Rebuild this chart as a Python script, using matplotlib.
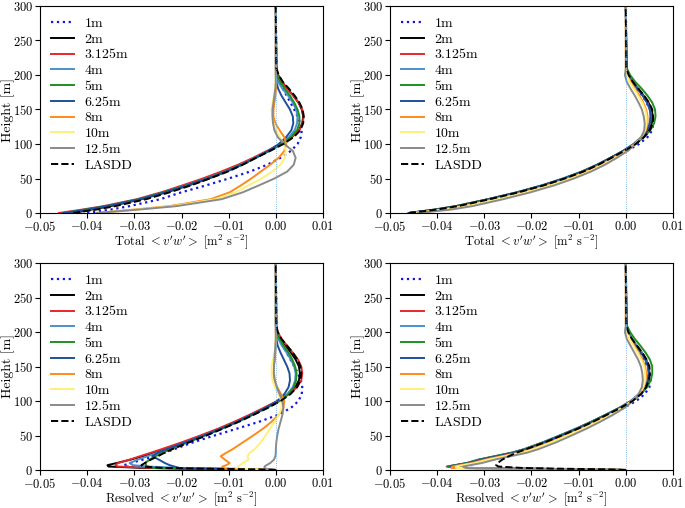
import matplotlib
matplotlib.use('Agg')
from matplotlib import pyplot as plt

plt.rcParams['font.family'] = 'serif'
plt.rcParams['font.serif'] = ['cmr10']
plt.rcParams['mathtext.fontset'] = 'cm'
plt.rcParams['axes.formatter.use_mathtext'] = True
plt.rcParams['font.size'] = 10

labels = ['1m', '2m', '3.125m', '4m', '5m', '6.25m', '8m', '10m', '12.5m', 'LASDD']
colors = ['#1515e0', 'black', '#e8262b', '#4a8fcf', '#1f8f1f', '#1f4f9c',
          '#ff8a1c', '#fff07a', '#8a8a8a', 'black']
styles = [':', '-', '-', '-', '-', '-', '-', '-', '-', '--']

# heights [m]
h_tot = [0, 5, 10, 20, 30, 40, 50, 60, 70, 80, 90, 100, 110, 120, 130, 140,
         150, 160, 170, 180, 190, 200, 210, 300]
h_res = [0, 1, 2, 3, 5, 7, 10, 15, 20, 25, 30, 40, 50, 60, 70, 80, 90, 100,
         110, 120, 130, 140, 150, 160, 170, 180, 190, 200, 210, 300]

# total <v'w'>, left column (order as labels)
total_left = [
  [-0.040, -0.035, -0.031, -0.0245, -0.0200, -0.0148, -0.0100, -0.0055, -0.0018, 0.0010, 0.0032, 0.0046, 0.0053, 0.0055, 0.0052, 0.0046, 0.0039, 0.0031, 0.0023, 0.0015, 0.0008, 0.0003, 0.0001, 0],
  [-0.043, -0.039, -0.035, -0.0285, -0.0232, -0.0185, -0.0142, -0.0105, -0.0072, -0.0043, -0.0015, 0.0012, 0.0034, 0.0049, 0.0056, 0.0058, 0.0055, 0.0048, 0.0037, 0.0025, 0.0013, 0.0005, 0.0001, 0],
  [-0.046, -0.041, -0.0365, -0.0295, -0.0243, -0.0198, -0.0155, -0.0116, -0.0080, -0.0048, -0.0019, 0.0010, 0.0034, 0.0050, 0.0057, 0.0059, 0.0056, 0.0048, 0.0037, 0.0024, 0.0012, 0.0004, 0.0001, 0],
  [-0.045, -0.040, -0.0358, -0.029, -0.0237, -0.019, -0.0147, -0.0108, -0.0074, -0.0044, -0.0016, 0.0010, 0.0028, 0.0040, 0.0045, 0.0046, 0.0043, 0.0036, 0.0026, 0.0014, 0.0005, 0.0001, 0, 0],
  [-0.045, -0.0405, -0.036, -0.029, -0.0238, -0.019, -0.0146, -0.0107, -0.0072, -0.0042, -0.0014, 0.0012, 0.0032, 0.0045, 0.0050, 0.0050, 0.0046, 0.0039, 0.0030, 0.0019, 0.0009, 0.0003, 0.0001, 0],
  [-0.045, -0.040, -0.0357, -0.0288, -0.0235, -0.0188, -0.0145, -0.0106, -0.0072, -0.0043, -0.0016, 0.0006, 0.0022, 0.0033, 0.0037, 0.0036, 0.0030, 0.0021, 0.0012, 0.0005, 0.0001, 0, 0, 0],
  [-0.038, -0.030, -0.0225, -0.0138, -0.0098, -0.0074, -0.0052, -0.0032, -0.0012, 0.0006, 0.0018, 0.0022, 0.0018, 0.0008, -0.0001, -0.0005, -0.0005, -0.0003, -0.0001, 0, 0, 0, 0, 0],
  [-0.037, -0.0295, -0.0218, -0.0128, -0.0085, -0.0058, -0.0030, -0.0008, 0.0010, 0.0019, 0.0021, 0.0017, 0.0008, 0.0, -0.0005, -0.0008, -0.0009, -0.0007, -0.0004, -0.0002, 0, 0, 0, 0],
  [-0.038, -0.029, -0.021, -0.0115, -0.0070, -0.0036, -0.0003, 0.0024, 0.0038, 0.0042, 0.0036, 0.0018, 0.0004, -0.0003, -0.0006, -0.0007, -0.0007, -0.0005, -0.0003, -0.0001, 0, 0, 0, 0],
  [-0.043, -0.038, -0.034, -0.0275, -0.0225, -0.018, -0.014, -0.0102, -0.007, -0.0042, -0.0012, 0.0016, 0.0038, 0.0052, 0.0058, 0.0059, 0.0057, 0.0050, 0.0040, 0.0028, 0.0015, 0.0006, 0.0001, 0],
]

# total <v'w'>, right column
total_right = [
  [-0.045, -0.0395, -0.035, -0.0285, -0.0225, -0.0172, -0.0127, -0.0088, -0.0055, -0.0026, 0.0002, 0.0028, 0.0046, 0.0056, 0.0058, 0.0056, 0.0051, 0.0044, 0.0035, 0.0024, 0.0013, 0.0005, 0.0001, 0],
  [-0.046, -0.040, -0.0355, -0.029, -0.0228, -0.0175, -0.013, -0.0092, -0.006, -0.0032, -0.0005, 0.0019, 0.0036, 0.0048, 0.0055, 0.0057, 0.0055, 0.0048, 0.0038, 0.0026, 0.0014, 0.0005, 0.0001, 0],
  [-0.046, -0.0405, -0.036, -0.0292, -0.023, -0.0177, -0.0132, -0.0093, -0.006, -0.0032, -0.0006, 0.0017, 0.0033, 0.0045, 0.0052, 0.0054, 0.0052, 0.0046, 0.0037, 0.0026, 0.0014, 0.0006, 0.0001, 0],
  [-0.046, -0.0405, -0.036, -0.0293, -0.0232, -0.0179, -0.0134, -0.0094, -0.0061, -0.0033, -0.0006, 0.0016, 0.0032, 0.0043, 0.0050, 0.0052, 0.0051, 0.0045, 0.0036, 0.0025, 0.0014, 0.0005, 0.0001, 0],
  [-0.046, -0.0405, -0.036, -0.0292, -0.023, -0.0177, -0.0132, -0.0093, -0.006, -0.0032, -0.0005, 0.0019, 0.0038, 0.0052, 0.0060, 0.0063, 0.0062, 0.0056, 0.0046, 0.0034, 0.0020, 0.0009, 0.0002, 0],
  [-0.046, -0.040, -0.0357, -0.029, -0.0229, -0.0176, -0.0131, -0.0092, -0.006, -0.0032, -0.0005, 0.0018, 0.0034, 0.0045, 0.0051, 0.0053, 0.0051, 0.0045, 0.0036, 0.0025, 0.0013, 0.0005, 0.0001, 0],
  [-0.045, -0.039, -0.0345, -0.0278, -0.0217, -0.0166, -0.0122, -0.0084, -0.0053, -0.0026, -0.0001, 0.0019, 0.0033, 0.0042, 0.0046, 0.0046, 0.0043, 0.0037, 0.0029, 0.0019, 0.0010, 0.0003, 0, 0],
  [-0.045, -0.0385, -0.034, -0.0273, -0.0212, -0.0161, -0.0118, -0.0080, -0.0049, -0.0023, 0.0001, 0.0020, 0.0033, 0.0041, 0.0044, 0.0044, 0.0041, 0.0035, 0.0026, 0.0017, 0.0008, 0.0002, 0, 0],
  [-0.044, -0.037, -0.0325, -0.026, -0.0202, -0.0152, -0.011, -0.0074, -0.0044, -0.0019, 0.0004, 0.0021, 0.0033, 0.0039, 0.0040, 0.0038, 0.0034, 0.0027, 0.0019, 0.0010, 0.0002, -0.0002, 0, 0],
  [-0.046, -0.040, -0.0355, -0.0288, -0.0227, -0.0174, -0.0129, -0.009, -0.0058, -0.003, -0.0003, 0.0021, 0.0039, 0.0051, 0.0057, 0.0058, 0.0056, 0.0049, 0.0039, 0.0027, 0.0015, 0.0006, 0.0001, 0],
]

# resolved <v'w'>, left column
resolved_left = [
  [0, -0.004, -0.015, -0.025, -0.032, -0.0322, -0.0308, -0.0282, -0.0258, -0.0236, -0.0216, -0.0176, -0.0130, -0.0082, -0.0035, 0.0005, 0.0032, 0.0048, 0.0055, 0.0056, 0.0053, 0.0047, 0.0039, 0.0031, 0.0023, 0.0015, 0.0008, 0.0003, 0.0001, 0],
  [0, -0.003, -0.018, -0.028, -0.0355, -0.0357, -0.0338, -0.0308, -0.0282, -0.026, -0.0238, -0.0196, -0.0156, -0.0119, -0.0084, -0.0053, -0.0023, 0.0005, 0.0027, 0.0041, 0.0049, 0.0051, 0.0049, 0.0042, 0.0032, 0.0021, 0.0010, 0.0003, 0.0001, 0],
  [0, -0.004, -0.016, -0.026, -0.0335, -0.034, -0.0335, -0.031, -0.0288, -0.0265, -0.0243, -0.0200, -0.0160, -0.0122, -0.0088, -0.0056, -0.0026, 0.0003, 0.0028, 0.0045, 0.0054, 0.0056, 0.0054, 0.0047, 0.0036, 0.0024, 0.0012, 0.0004, 0.0001, 0],
  [0, -0.003, -0.012, -0.020, -0.027, -0.0303, -0.031, -0.0293, -0.0272, -0.0251, -0.0231, -0.0191, -0.0152, -0.0115, -0.0081, -0.0050, -0.0020, 0.0006, 0.0024, 0.0036, 0.0041, 0.0042, 0.0039, 0.0032, 0.0023, 0.0013, 0.0005, 0.0001, 0, 0],
  [0, -0.003, -0.020, -0.026, -0.0272, -0.0275, -0.0277, -0.0268, -0.0255, -0.024, -0.0224, -0.0187, -0.015, -0.0114, -0.008, -0.0049, -0.0019, 0.0008, 0.0027, 0.0038, 0.0043, 0.0044, 0.0041, 0.0035, 0.0027, 0.0017, 0.0008, 0.0002, 0, 0],
  [0, -0.006, -0.0195, -0.0205, -0.0215, -0.0225, -0.0235, -0.0248, -0.0262, -0.025, -0.0232, -0.0192, -0.0153, -0.0116, -0.0082, -0.0051, -0.0022, 0.0003, 0.0018, 0.0027, 0.0030, 0.0029, 0.0024, 0.0017, 0.0010, 0.0004, 0.0001, 0, 0, 0],
  [0, -0.004, -0.011, -0.0115, -0.0113, -0.0105, -0.0098, -0.0108, -0.0117, -0.0105, -0.0092, -0.0070, -0.0048, -0.0027, -0.0009, 0.0006, 0.0016, 0.0018, 0.0011, 0.0003, -0.0003, -0.0005, -0.0004, -0.0002, -0.0001, 0, 0, 0, 0, 0],
  [0, -0.004, -0.0082, -0.0082, -0.0080, -0.0076, -0.0070, -0.0058, -0.0060, -0.0055, -0.0045, -0.0032, -0.0022, -0.0012, -0.0003, 0.0006, 0.0012, 0.0012, 0.0005, -0.0002, -0.0007, -0.0009, -0.0009, -0.0006, -0.0003, -0.0001, 0, 0, 0, 0],
  [0, -0.001, -0.0022, -0.0024, -0.0024, -0.0020, -0.0012, -0.0004, -0.0001, 0, 0, 0.0001, 0.0003, 0.0006, 0.0010, 0.0014, 0.0016, 0.0014, 0.0008, 0.0002, -0.0002, -0.0004, -0.0004, -0.0003, -0.0002, -0.0001, 0, 0, 0, 0],
  [0, -0.004, -0.016, -0.024, -0.0283, -0.0285, -0.0278, -0.0265, -0.025, -0.0236, -0.022, -0.0184, -0.0147, -0.0112, -0.0078, -0.0047, -0.0017, 0.0010, 0.0031, 0.0045, 0.0052, 0.0054, 0.0052, 0.0046, 0.0036, 0.0024, 0.0012, 0.0004, 0.0001, 0],
]

# resolved <v'w'>, right column
resolved_right = [
  [0, -0.006, -0.024, -0.033, -0.0368, -0.0355, -0.033, -0.0305, -0.027, -0.0236, -0.021, -0.017, -0.0134, -0.0099, -0.0066, -0.0035, -0.0005, 0.0022, 0.0040, 0.0050, 0.0052, 0.0050, 0.0046, 0.0039, 0.0031, 0.0021, 0.0011, 0.0004, 0.0001, 0],
  [0, -0.006, -0.025, -0.034, -0.0375, -0.036, -0.0335, -0.031, -0.0275, -0.0240, -0.0214, -0.0174, -0.0138, -0.0104, -0.0072, -0.0042, -0.0013, 0.0012, 0.0030, 0.0041, 0.0048, 0.0050, 0.0049, 0.0043, 0.0034, 0.0023, 0.0012, 0.0005, 0.0001, 0],
  [0, -0.006, -0.025, -0.035, -0.038, -0.0362, -0.0337, -0.0312, -0.0277, -0.0242, -0.0216, -0.0176, -0.014, -0.0105, -0.0073, -0.0043, -0.0014, 0.0011, 0.0029, 0.0040, 0.0047, 0.0049, 0.0048, 0.0043, 0.0034, 0.0023, 0.0012, 0.0005, 0.0001, 0],
  [0, -0.006, -0.025, -0.035, -0.0378, -0.0362, -0.0338, -0.0313, -0.0278, -0.0243, -0.0217, -0.0177, -0.0141, -0.0106, -0.0073, -0.0043, -0.0014, 0.0010, 0.0027, 0.0038, 0.0045, 0.0048, 0.0047, 0.0042, 0.0034, 0.0023, 0.0013, 0.0005, 0.0001, 0],
  [0, -0.006, -0.026, -0.035, -0.0378, -0.0362, -0.0337, -0.031, -0.0276, -0.0241, -0.0215, -0.0175, -0.0139, -0.0104, -0.0072, -0.0042, -0.0013, 0.0013, 0.0032, 0.0045, 0.0053, 0.0056, 0.0056, 0.0051, 0.0042, 0.0031, 0.0019, 0.0009, 0.0002, 0],
  [0, -0.006, -0.025, -0.034, -0.0372, -0.0358, -0.0333, -0.0307, -0.0272, -0.0238, -0.0212, -0.0172, -0.0136, -0.0102, -0.007, -0.0041, -0.0012, 0.0012, 0.0030, 0.0041, 0.0047, 0.0049, 0.0047, 0.0041, 0.0032, 0.0021, 0.0011, 0.0004, 0.0001, 0],
  [0, -0.005, -0.030, -0.037, -0.0368, -0.0352, -0.0327, -0.0298, -0.0263, -0.0228, -0.0202, -0.0162, -0.0127, -0.0094, -0.0063, -0.0035, -0.0009, 0.0013, 0.0029, 0.0038, 0.0042, 0.0043, 0.0041, 0.0035, 0.0027, 0.0018, 0.0009, 0.0003, 0, 0],
  [0, -0.005, -0.030, -0.036, -0.036, -0.0345, -0.032, -0.0292, -0.0257, -0.0222, -0.0197, -0.0158, -0.0124, -0.0091, -0.0061, -0.0033, -0.0008, 0.0013, 0.0028, 0.0037, 0.0041, 0.0041, 0.0039, 0.0033, 0.0025, 0.0016, 0.0008, 0.0002, 0, 0],
  [0, -0.005, -0.028, -0.034, -0.0345, -0.033, -0.0306, -0.0278, -0.0244, -0.021, -0.0186, -0.0148, -0.0115, -0.0083, -0.0054, -0.0027, -0.0003, 0.0015, 0.0027, 0.0034, 0.0036, 0.0035, 0.0032, 0.0026, 0.0018, 0.0010, 0.0002, -0.0002, 0, 0],
  [0, -0.004, -0.015, -0.022, -0.027, -0.0275, -0.0272, -0.0262, -0.0248, -0.0232, -0.0212, -0.0172, -0.0136, -0.0101, -0.0069, -0.0040, -0.0011, 0.0014, 0.0032, 0.0043, 0.0049, 0.0051, 0.0050, 0.0044, 0.0035, 0.0024, 0.0013, 0.0005, 0.0001, 0],
]

xlabel_total = r"Total $<v'w'>$ $[\mathrm{m}^2\ \mathrm{s}^{-2}]$"
xlabel_res = r"Resolved $<v'w'>$ $[\mathrm{m}^2\ \mathrm{s}^{-2}]$"


def panel(ax, heights, series, xlabel):
  for vals, lab, c, ls in zip(series, labels, colors, styles):
    lw = 1.6 if ls == ':' else 1.4
    ax.plot(vals, heights, color=c, ls=ls, lw=lw, label=lab)
  ax.axvline(0, color='#5aa5e6', lw=0.6, ls=':')
  ax.set_xlim(-0.05, 0.01)
  ax.set_ylim(0, 300)
  ax.set_xticks([-0.05, -0.04, -0.03, -0.02, -0.01, 0.0, 0.01])
  ax.set_xticklabels(['$-0.05$', '$-0.04$', '$-0.03$', '$-0.02$', '$-0.01$', '$0.00$', '$0.01$'])
  ax.set_yticks(range(0, 301, 50))
  ax.tick_params(labelsize=9, pad=1.5)
  ax.set_ylabel('Height [m]')
  ax.yaxis.label.set_va('center')
  ax.yaxis.set_label_coords(-32 / 283, 0.5)
  ax.set_xlabel(xlabel, fontsize=9)
  ax.xaxis.label.set_va('top')
  ax.xaxis.set_label_coords(0.5, -19 / 207)
  ax.legend(loc='upper left', frameon=False, fontsize=10, labelspacing=0.22,
            handlelength=1.65, handletextpad=0.75, borderaxespad=0.4)


fig = plt.figure(figsize=(6.85, 5.08), dpi=100)
w, hgt = 283 / 685, 207 / 508
ax1 = fig.add_axes([40 / 685, 295 / 508, w, hgt])
ax2 = fig.add_axes([390 / 685, 295 / 508, w, hgt])
ax3 = fig.add_axes([40 / 685, 38 / 508, w, hgt])
ax4 = fig.add_axes([390 / 685, 38 / 508, w, hgt])

panel(ax1, h_tot, total_left, xlabel_total)
panel(ax2, h_tot, total_right, xlabel_total)
panel(ax3, h_res, resolved_left, xlabel_res)
panel(ax4, h_res, resolved_right, xlabel_res)

fig.savefig('out.png', dpi=100)
